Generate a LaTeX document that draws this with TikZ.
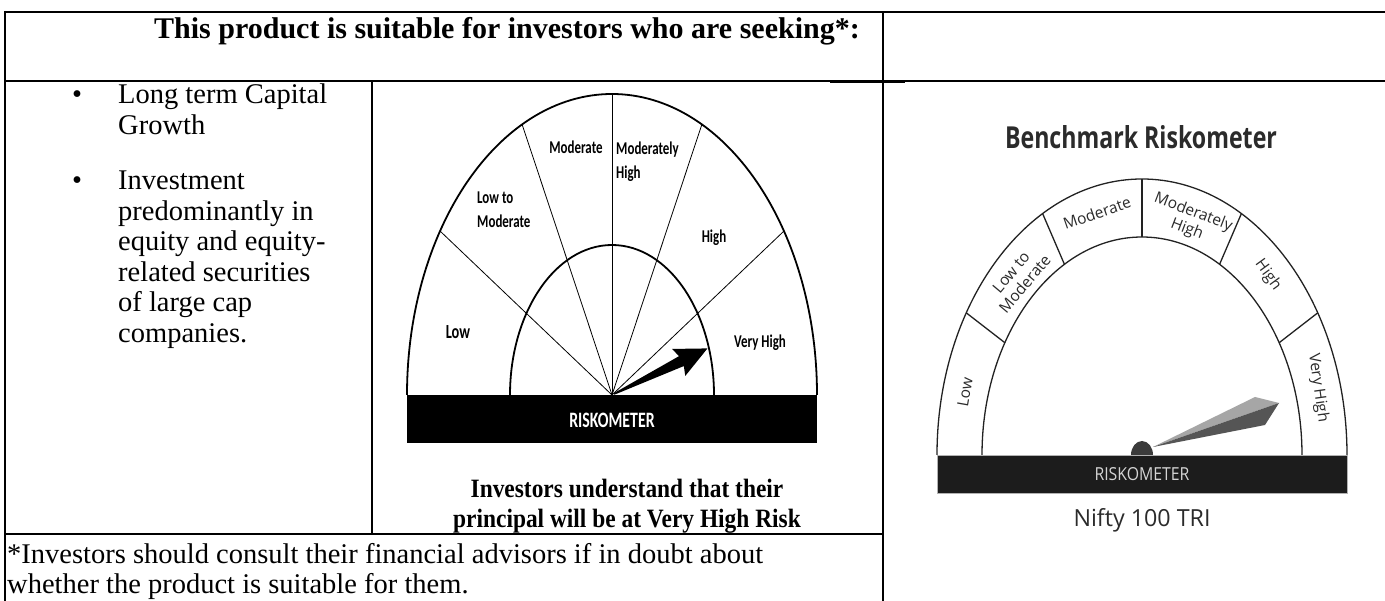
\documentclass[tikz,border=0pt]{standalone}
\usepackage{fontspec}
\setmainfont{Liberation Serif}
\newfontfamily\calfont[FakeStretch=0.72]{Carlito}
\newfontfamily\osfont{Open Sans}
\usetikzlibrary{calc}
\definecolor{ink}{HTML}{2B2B2B}
\definecolor{meterline}{HTML}{222222}
\definecolor{bardark}{HTML}{1C1C1C}
\definecolor{barlabel}{HTML}{D4D4D4}
\definecolor{needlelight}{HTML}{A6A6A6}
\definecolor{needledark}{HTML}{555555}
\tikzset{
  rule/.style={line width=1.6pt, black},
  bodytext/.style={inner sep=0pt, font=\fontsize{28.5}{31}\selectfont, anchor=base west},
  boldtext/.style={inner sep=0pt, font=\bfseries\fontsize{23.4}{27}\selectfont, anchor=base},
  lmlabel/.style={inner sep=0pt, font=\calfont\bfseries\fontsize{18}{24}\selectfont, align=left},
  rmlabel/.style={inner sep=0pt, font=\osfont\fontsize{15.5}{18}\selectfont, text=ink, align=center},
  spoke/.style={line width=0.8pt, black},
  bigarc/.style={line width=1.8pt, black},
  rarc/.style={line width=1.3pt, meterline},
}
\begin{document}
\begin{tikzpicture}[x=1pt,y=-1pt]
\useasboundingbox (0,0) rectangle (1385,601);
\fill[white] (0,0) rectangle (1385,601);

% ---------- table rules ----------
\coordinate (tl) at (4,12);
\coordinate (tr) at (1385,12);
\coordinate (bl) at (5,601);
\coordinate (md) at (883,12);
\coordinate (mb) at (883,601);
\coordinate (hl) at (5,81);
\coordinate (hr) at (1385,81);
\coordinate (cs) at (372,81);
\coordinate (ce) at (372,534);
\coordinate (fl) at (5,534);
\coordinate (fr) at (883,534);
\draw[rule, line width=2.2pt] (tl) -- (tr);
\draw[rule, line width=2.2pt] (5,11) -- (bl);
\draw[rule, line width=2.2pt] (md) -- (mb);
\draw[rule] (hl) -- (hr);
\draw[rule, line width=2.2pt] (5,81) -- (372,81);
\draw[rule, line width=2.4pt] (830,81.5) -- (905,81.5);
\draw[rule] (cs) -- (ce);
\draw[rule] (fl) -- (fr);

% ---------- header ----------
\node[inner sep=0pt, anchor=base, font=\bfseries\fontsize{30}{32}\selectfont] (hdr) at (507,39)
  {This product is suitable for investors who are seeking*:};

% ---------- bullets ----------
\node[inner sep=0pt, anchor=base, font=\fontsize{28.5}{31}\selectfont] (dot1) at (77,104) {•};
\node[bodytext] (b1a) at (118,104) {Long term Capital};
\node[bodytext] (b1b) at (118,135) {Growth};
\node[inner sep=0pt, anchor=base, font=\fontsize{28.5}{31}\selectfont] (dot2) at (77,190) {•};
\node[bodytext] (b2a) at (118,190) {Investment};
\node[bodytext] (b2b) at (118,221) {predominantly in};
\node[bodytext] (b2c) at (118,251) {equity and equity-};
\node[bodytext] (b2d) at (118,282) {related securities};
\node[bodytext] (b2e) at (118,312) {of large cap};
\node[bodytext] (b2f) at (118,343) {companies.};

% ---------- left riskometer ----------
\coordinate (lc) at (612,395);
\foreach \a in {147,116,90,64,33}{
  \draw[spoke] (lc) -- ++(\a:205pt and 301pt);
}
\draw[bigarc] (407,395) arc[start angle=180, end angle=0, x radius=205pt, y radius=301pt];
\draw[bigarc] (510,395) arc[start angle=180, end angle=0, x radius=102pt, y radius=150pt];
\fill[black] (407,395) rectangle (817,443);
\node[inner sep=0pt, text=white, font=\calfont\bfseries\fontsize{22}{24}\selectfont] (lrisk) at (612,420) {RISKOMETER};
\begin{scope}[shift={(614,394)}, rotate=26]
  \fill[black] (0,0.8) -- (75,5.5) -- (72,15) -- (104,0) -- (72,-15) -- (75,-5.5) -- (0,-0.8) -- cycle;
\end{scope}
\node[lmlabel] (lmod) at (576,147) {Moderate};
\node[lmlabel, anchor=west] (lmh) at (616,162) {Moderately\\High};
\node[lmlabel, anchor=west] (lltm) at (477,210) {Low to\\Moderate};
\node[lmlabel] (lhigh) at (714,238) {High};
\node[lmlabel, font=\calfont\bfseries\fontsize{20}{24}\selectfont] (llow) at (458,332) {Low};
\node[lmlabel] (lvh) at (760,343) {Very High};

\node[boldtext] (under1) at (627,497) {\scalebox{1}[1.13]{Investors understand that their}};
\node[boldtext] (under2) at (627,527) {\scalebox{1}[1.13]{principal will be at Very High Risk}};

% ---------- footnote ----------
\node[bodytext] (foot1) at (7,563) {*Investors should consult their financial advisors if in doubt about};
\node[bodytext] (foot2) at (7,593) {whether the product is suitable for them.};

% ---------- right riskometer ----------
\node[inner sep=0pt, text=ink] (rtitle) at (1141,137)
  {\resizebox{272pt}{23pt}{\osfont\bfseries Benchmark Riskometer}};
\coordinate (rc) at (1142,455);
\foreach \a in {31,61,90,119,149}{
  \draw[rarc] ($(rc)+(\a:160pt and 218pt)$) -- ($(rc)+(\a:205pt and 276pt)$);
}
\draw[rarc] (937,455) arc[start angle=180, end angle=0, x radius=205pt, y radius=276pt];
\draw[rarc] (982,455) arc[start angle=180, end angle=0, x radius=160pt, y radius=218pt];
\fill[needlelight] (1153,447) -- (1255,397) -- (1279,403) -- cycle;
\fill[needledark] (1153,447) -- (1279,403) -- (1265,425) -- cycle;
\fill[needledark!70!black] (1131,455) arc[start angle=180, end angle=0, x radius=11pt, y radius=14pt] -- cycle;
\fill[bardark, draw=gray!60, line width=0.8pt] (937,455) rectangle (1347,493);
\node[inner sep=0pt, text=barlabel] (rrisk) at (1142,474) {\resizebox{95pt}{13pt}{\osfont RISKOMETER}};
\node[inner sep=0pt, anchor=base, text=ink] (nifty) at (1142,526) {\resizebox{137pt}{18pt}{\osfont Nifty 100 TRI}};

\node[rmlabel, rotate=80] (rlow) at (965,392) {Low};
\node[rmlabel, rotate=50] (rltm) at (1018,278) {Low to\\Moderate};
\node[rmlabel, rotate=19] (rmod) at (1097,213) {Moderate};
\node[rmlabel, rotate=-21] (rmh) at (1190,221) {Moderately\\High};
\node[rmlabel, rotate=-54] (rhigh) at (1268,275) {High};
\node[rmlabel, rotate=-82] (rvh) at (1318,388) {Very High};
\end{tikzpicture}
\end{document}
